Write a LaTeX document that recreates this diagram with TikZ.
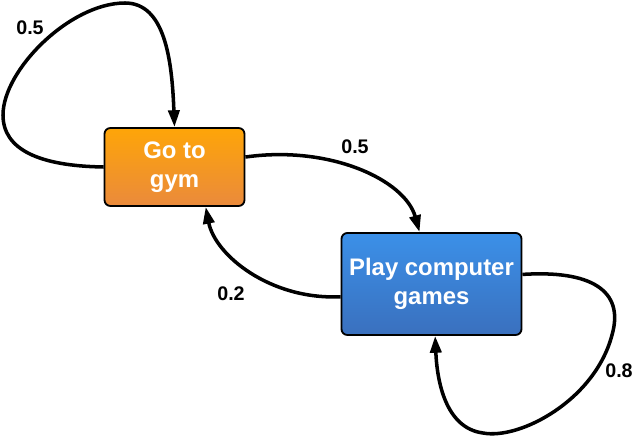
\documentclass[tikz,border=0pt]{standalone}
\usepackage{fontspec}
\setmainfont{Liberation Sans}
\usepackage{tikz}
\usetikzlibrary{arrows.meta}
\definecolor{OrangeTop}{HTML}{FEA508}
\definecolor{OrangeBot}{HTML}{EA8A3C}
\definecolor{BlueTop}{HTML}{3B90E8}
\definecolor{BlueBot}{HTML}{3A70BE}
\begin{document}
\begin{tikzpicture}[
  x=0.025cm,y=-0.025cm,
  every node/.style={font=\bfseries\fontsize{14}{16}\selectfont,align=center},
  state/.style={rounded corners=1.5mm,draw=black,line width=1.3pt,text=white,
    font=\bfseries\fontsize{17}{20.5}\selectfont},
  arr/.style={-{Triangle[length=4.2mm,width=2.8mm]},line width=2.5pt}
]
\useasboundingbox (0,0) rectangle (641,438);
\node[state,minimum width=3.5cm,minimum height=1.95cm,top color=OrangeTop,bottom color=OrangeBot] (gym) at (174.5,167) {Go to\\gym};
\node[state,minimum width=4.5cm,minimum height=2.55cm,top color=BlueTop,bottom color=BlueBot] (play) at (431.5,284) {Play computer\\games};
% transition probabilities
\node (pgg) at (30,28) {0.5};
\node (pgp) at (355,147) {0.5};
\node (ppg) at (231,294) {0.2};
\node (ppp) at (619,371) {0.8};
\draw[arr] (gym.west) .. controls (40,166) and (3,150) .. (3,115) .. controls (3,70) and (70,3) .. (125,3) .. controls (165,3) and (172,60) .. (gym.north);
\draw[arr] (gym.8) .. controls (330,145) and (405,180) .. (play.103);
\draw[arr] (play.188) .. controls (270,300) and (215,255) .. (gym.308);
\draw[arr] (play.6) .. controls (590,270) and (625,290) .. (612,335) .. controls (595,400) and (520,440) .. (483,433) .. controls (445,428) and (437,380) .. (play.274);
\end{tikzpicture}
\end{document}
